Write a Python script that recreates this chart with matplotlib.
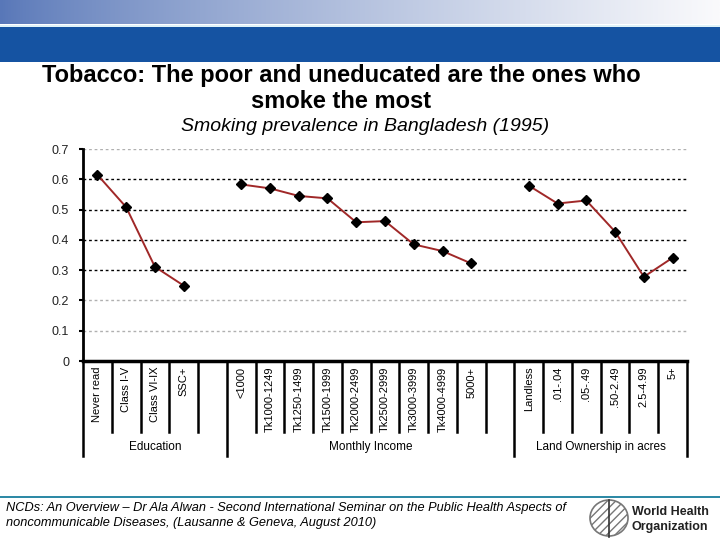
import numpy as np
import matplotlib
matplotlib.use("Agg")
import matplotlib.pyplot as plt
import matplotlib.transforms as mtransforms
from matplotlib.patches import Rectangle, Ellipse

# ---------------- data ----------------
education_labels = ["Never read", "Class I-V", "Class VI-IX", "SSC+"]
education_values = [0.615, 0.508, 0.311, 0.249]

income_labels = ["<1000", "Tk1000-1249", "Tk1250-1499", "Tk1500-1999", "Tk2000-2499",
                 "Tk2500-2999", "Tk3000-3999", "Tk4000-4999", "5000+"]
income_values = [0.583, 0.570, 0.545, 0.537, 0.458, 0.462, 0.385, 0.363, 0.322]

land_labels = ["Landless", ".01-.04", ".05-.49", ".50-2.49", "2.5-4.99", "5+"]
land_values = [0.579, 0.520, 0.530, 0.427, 0.278, 0.341]

group_names = ["Education", "Monthly Income", "Land Ownership in acres"]
y_ticks = [0, 0.1, 0.2, 0.3, 0.4, 0.5, 0.6, 0.7]
y_tick_labels = ["0", "0.1", "0.2", "0.3", "0.4", "0.5", "0.6", "0.7"]

title_text = "Tobacco: The poor and uneducated are the ones who\nsmoke the most"
subtitle_text = "Smoking prevalence in Bangladesh (1995)"
footer_text = ("NCDs: An Overview \u2013 Dr Ala Alwan - Second International Seminar on the Public Health Aspects of\n"
               "noncommunicable Diseases, (Lausanne & Geneva, August 2010)")

# group layout: each group followed by a blank slot except the last
groups = [(education_labels, education_values, True),
          (income_labels, income_values, True),
          (land_labels, land_values, False)]

W, H = 720, 540
fig = plt.figure(figsize=(7.2, 5.4), dpi=100)
fig.patch.set_facecolor("white")

def fx(p):
    return p / W

def fy(p):
    return 1 - p / H

# ---------------- header ----------------
hax = fig.add_axes([0, fy(24), 1, 24 / H])
grad = np.linspace(0, 1, 256)
c0 = np.array([88, 119, 184]) / 255
c1 = np.array([250, 250, 252]) / 255
g = np.clip(grad ** 0.8, 0, 1)
img = (c0[None, :] * (1 - g[:, None]) + c1[None, :] * g[:, None])[None, :, :]
hax.imshow(img, aspect="auto", extent=[0, 1, 0, 1])
hax.axis("off")
fig.patches.append(Rectangle((0, fy(62)), 1, (62 - 27) / H, transform=fig.transFigure,
                             facecolor="#1553a2", edgecolor="none", zorder=1))
fig.patches.append(Rectangle((0, fy(27)), 1, 2 / H, transform=fig.transFigure,
                             facecolor="#dff2f8", edgecolor="none", zorder=1))

# ---------------- titles ----------------
fig.text(fx(341), fy(88.5), title_text, ha="center", va="center", fontsize=17,
         fontweight="bold", family="Liberation Sans", linespacing=1.15, color="black")
fig.text(fx(365), fy(126), subtitle_text, ha="center", va="center", fontsize=14,
         style="italic", family="Liberation Sans", color="black")

# ---------------- main axes ----------------
x0, x1 = 83, 687
ytop, ybot = 149, 361
ax = fig.add_axes([fx(x0), fy(ybot), (x1 - x0) / W, (ybot - ytop) / H])

all_labels = []
pos = 0
group_spans = []
for labels, vals, blank in groups:
    xs = np.arange(pos, pos + len(labels))
    ax.plot(xs, vals, color="#a02828", lw=1.4, zorder=3)
    ax.plot(xs, vals, ls="none", marker="D", ms=5, color="black", zorder=4)
    start = pos
    all_labels += labels
    pos += len(labels)
    if blank:
        all_labels.append("")
        pos += 1
    group_spans.append((start - 0.5, pos - 0.5))

n = pos
ax.set_xlim(-0.5, n - 0.5)
ax.set_ylim(0, 0.7)

for yv in y_ticks[1:]:
    if yv in (0.3, 0.4, 0.5, 0.6):
        ax.axhline(yv, color="black", lw=1.0, ls=(0, (2, 2)), zorder=1)
    else:
        ax.axhline(yv, color="#b0b0b0", lw=1.0, ls=(0, (2, 2)), zorder=1)

ax.set_yticks(y_ticks)
ax.set_yticklabels(y_tick_labels, fontsize=9, family="Liberation Sans", color="#222222")
ax.tick_params(axis="y", length=3, width=1.5, pad=7)
ax.set_xticks(np.arange(n))
ax.set_xticklabels(all_labels, rotation=90, fontsize=8, family="Liberation Sans", va="top")
ax.tick_params(axis="x", length=0, pad=4)

for s in ["top", "right"]:
    ax.spines[s].set_visible(False)
ax.spines["left"].set_linewidth(2)
ax.spines["bottom"].set_linewidth(2.5)

# separators below axis
trans = mtransforms.blended_transform_factory(ax.transData, ax.transAxes)
short_y = -(432 - ybot) / (ybot - ytop)
long_y = -(456 - ybot) / (ybot - ytop)
group_edges = set()
for a, b in group_spans:
    group_edges.add(a)
    group_edges.add(b)
for k in range(n + 1):
    xb = k - 0.5
    yb = long_y if xb in group_edges else short_y
    ax.plot([xb, xb], [0, yb], color="black", lw=1.8, transform=trans, clip_on=False)

for (a, b), name in zip(group_spans, group_names):
    ax.text((a + b) / 2, -(447 - ybot) / (ybot - ytop), name, transform=trans,
            ha="center", va="center", fontsize=8.5, family="Liberation Sans")

# ---------------- footer ----------------
fig.patches.append(Rectangle((0, fy(498)), 1, 2.5 / H, transform=fig.transFigure,
                             facecolor="#2e8aa6", edgecolor="none"))
fig.text(fx(6), fy(515.5), footer_text, ha="left", va="center", fontsize=9.2,
         style="italic", family="Liberation Sans",
         linespacing=1.25, color="black")

# WHO emblem approximation
fig.patches.append(Ellipse((fx(609), fy(518)), 38 / W, 36 / H, transform=fig.transFigure,
                           facecolor="none", edgecolor="#777777", lw=1.2, hatch="////"))
fig.lines.append(plt.Line2D([fx(609), fx(609)], [fy(500), fy(537)], transform=fig.transFigure,
                            color="#333333", lw=1.2))
fig.text(fx(632), fy(519.5), "World Health\nOrganization", ha="left", va="center",
         fontsize=9, fontweight="bold", family="Liberation Sans", color="#222222",
         linespacing=1.3)

fig.savefig("out.png", dpi=100)
